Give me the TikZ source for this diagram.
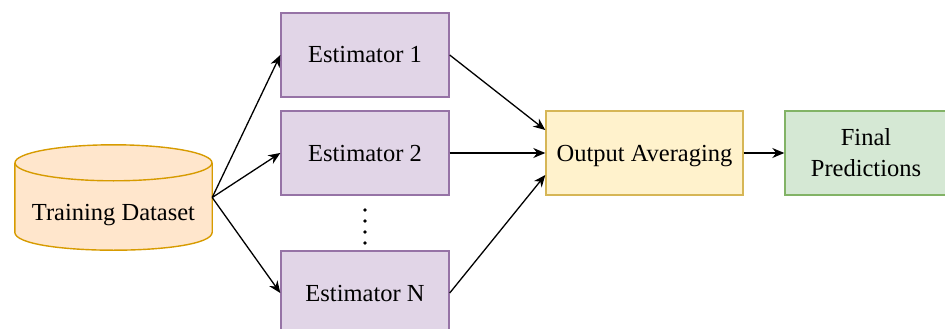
\documentclass[tikz,border=0pt]{standalone}
\usepackage{fontspec}
\setmainfont{Liberation Serif}
\usetikzlibrary{arrows.meta,calc}

\definecolor{cylfill}{HTML}{FFE6CC}
\definecolor{cylline}{HTML}{D79B00}
\definecolor{estfill}{HTML}{E1D5E7}
\definecolor{estline}{HTML}{9673A6}
\definecolor{avgfill}{HTML}{FFF2CC}
\definecolor{avgline}{HTML}{D6B656}
\definecolor{finfill}{HTML}{D5E8D4}
\definecolor{finline}{HTML}{82B366}

\begin{document}
\begin{tikzpicture}[x=1pt,y=-1pt,
  font=\fontsize{24.5}{31}\selectfont,
  oneline/.style={text height=16pt, text depth=0pt},
  box/.style={draw, line width=1.4pt, inner sep=0pt, align=center, minimum height=84pt},
  est/.style={box, oneline, fill=estfill, draw=estline, minimum width=168pt},
  arr/.style={-{Stealth[length=12pt,width=10pt]}, line width=1.3pt},
  cyl/.style={draw=cylline, line width=1.4pt}
]
\useasboundingbox (0,0) rectangle (945,329);

% storage cylinder for the training data
\node[minimum width=197pt, minimum height=105pt, inner sep=0pt] (data) at (113.5,197.5) {};
\coordinate (tl) at ($(data.north west)+(0,18)$);
\coordinate (tr) at ($(data.north east)+(0,18)$);
\coordinate (bl) at ($(data.south west)+(0,-18)$);
\coordinate (br) at ($(data.south east)+(0,-18)$);
\coordinate (topc) at ($(data.north)+(0,18)$);
\fill[cylfill] (tl) -- (bl) .. controls ($(bl)+(0,24)$) and ($(br)+(0,24)$) .. (br) -- (tr) -- cycle;
\draw[cyl] (tl) -- (bl) .. controls ($(bl)+(0,24)$) and ($(br)+(0,24)$) .. (br) -- (tr);
\draw[cyl, fill=cylfill] (topc) ellipse [x radius=98.5, y radius=18];
\node[oneline, inner sep=0pt] (datalbl) at (113.5,212.5) {Training Dataset};

% estimators
\node[est] (e1) at (365,55) {Estimator 1};
\node[est] (e2) at (365,153) {Estimator 2};
\node[est] (en) at (365,293) {Estimator N};

% vertical ellipsis between estimator 2 and N
\foreach \y in {210,221,232,243}
  \fill (365,\y) circle (1.8pt);

% aggregation and result
\node[box, oneline, fill=avgfill, draw=avgline, minimum width=197pt] (avg) at (644.5,153) {Output Averaging};
\node[box, fill=finfill, draw=finline, minimum width=162pt] (final) at (866,153) {Final\\Predictions};

% connectors
\draw[arr] (data.east) -- (e1.west);
\draw[arr] (data.east) -- (e2.west);
\draw[arr] (data.east) -- (en.west);
\draw[arr] (e1.east) -- ($(avg.west)+(0,-23)$);
\draw[arr] (e2.east) -- (avg.west);
\draw[arr] (en.east) -- ($(avg.west)+(0,22)$);
\draw[arr] (avg.east) -- (final.west);
\end{tikzpicture}
\end{document}
